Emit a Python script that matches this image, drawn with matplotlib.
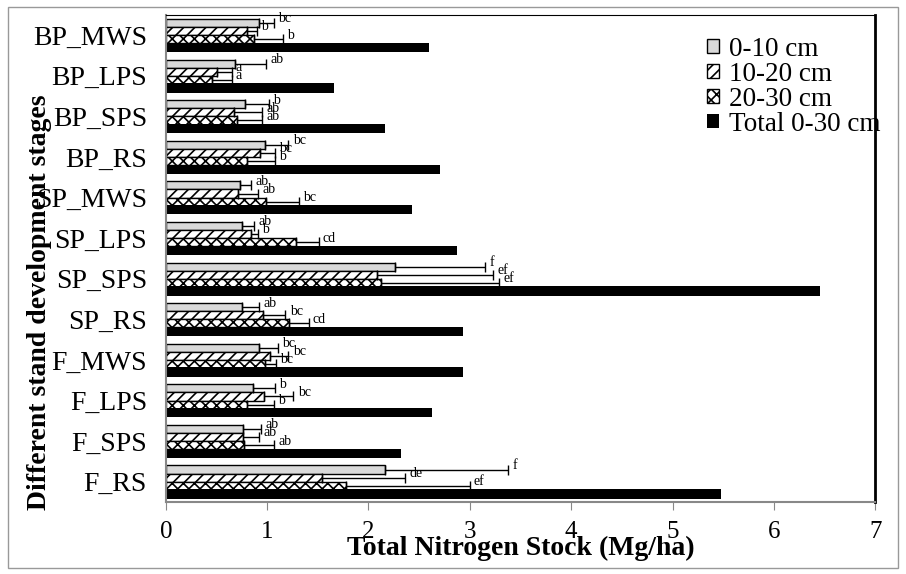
import numpy as np
import matplotlib.pyplot as plt
from matplotlib.patches import Rectangle

plt.rcParams['font.family'] = ['Liberation Serif', 'DejaVu Serif']
plt.rcParams['hatch.linewidth'] = 1.2

# categories listed bottom to top
stages = ['F_RS', 'F_SPS', 'F_LPS', 'F_MWS', 'SP_RS', 'SP_SPS', 'SP_LPS', 'SP_MWS',
          'BP_RS', 'BP_SPS', 'BP_LPS', 'BP_MWS']

d0_10 = [2.16, 0.76, 0.86, 0.92, 0.75, 2.26, 0.75, 0.73, 0.98, 0.78, 0.68, 0.92]
d10_20 = [1.54, 0.76, 0.97, 1.03, 0.96, 2.08, 0.84, 0.71, 0.93, 0.67, 0.51, 0.80]
d20_30 = [1.78, 0.77, 0.80, 0.98, 1.22, 2.12, 1.28, 0.99, 0.80, 0.70, 0.46, 0.87]
total = [5.48, 2.32, 2.63, 2.93, 2.93, 6.46, 2.87, 2.43, 2.71, 2.16, 1.66, 2.60]

err0_10 = [1.22, 0.18, 0.22, 0.19, 0.17, 0.89, 0.12, 0.11, 0.23, 0.24, 0.31, 0.15]
err10_20 = [0.82, 0.16, 0.29, 0.18, 0.22, 1.15, 0.07, 0.20, 0.15, 0.28, 0.14, 0.10]
err20_30 = [1.22, 0.30, 0.27, 0.11, 0.19, 1.17, 0.23, 0.32, 0.28, 0.25, 0.19, 0.29]

lab0_10 = ['f', 'ab', 'b', 'bc', 'ab', 'f', 'ab', 'ab', 'bc', 'b', 'ab', 'bc']
lab10_20 = ['de', 'ab', 'bc', 'bc', 'bc', 'ef', 'b', 'ab', 'bc', 'ab', 'a', 'b']
lab20_30 = ['ef', 'ab', 'b', 'bc', 'cd', 'ef', 'cd', 'bc', 'b', 'ab', 'a', 'b']

fig = plt.figure(figsize=(9.06, 5.74), dpi=100)
ax = fig.add_axes([0.183, 0.1254, 0.783, 0.8486])

y = np.arange(len(stages))
h = 0.2

series = [
    (d0_10, err0_10, lab0_10, 0.3, dict(color='#d9d9d9', edgecolor='black'), '0-10 cm'),
    (d10_20, err10_20, lab10_20, 0.1, dict(color='white', edgecolor='black', hatch='///'), '10-20 cm'),
    (d20_30, err20_30, lab20_30, -0.1, dict(color='white', edgecolor='black', hatch='xxx'), '20-30 cm'),
]

for vals, errs, labs, off, style, name in series:
    ax.barh(y + off, vals, height=h, linewidth=1, label=name, **style)
    ax.errorbar(vals, y + off, xerr=[np.zeros(len(vals)), errs], fmt='none',
                ecolor='black', elinewidth=1, capsize=3.5, capthick=1)
    for v, e, yy, t in zip(vals, errs, y + off, labs):
        ax.annotate(t, (v + e, yy), xytext=(3, 3), textcoords='offset points',
                    fontsize=10, va='center', ha='left')

ax.barh(y - 0.3, total, height=h + 0.03, color='black', label='Total 0-30 cm')

ax.set_xlim(0, 7)
ax.set_ylim(-0.5, len(stages) - 0.5)
ax.set_yticks(y)
ax.set_yticklabels(stages, fontsize=20)
ax.set_xticks(range(8))
ax.tick_params(axis='x', labelsize=18, color='#888888', length=6, direction='out', pad=8)
ax.tick_params(axis='y', length=0, pad=13.5)

for s in ['left', 'bottom']:
    ax.spines[s].set_color('#888888')
    ax.spines[s].set_linewidth(1.5)
ax.spines['right'].set_color('black')
ax.spines['right'].set_linewidth(2)
ax.spines['top'].set_color('black')
ax.spines['top'].set_linewidth(0.8)

ax.set_xlabel('Total Nitrogen Stock (Mg/ha)', fontsize=20, fontweight='bold')
ax.xaxis.set_label_coords(0.5, -0.07)
ax.set_ylabel('Different stand development stages', fontsize=20, fontweight='bold')
ax.yaxis.set_label_coords(-0.16, 0.41)

ax.legend(loc='upper left', bbox_to_anchor=(0.763, 0.955), frameon=False, fontsize=19.5,
          handlelength=0.45, handleheight=0.45, handletextpad=0.35, labelspacing=0.0,
          borderpad=0, borderaxespad=0)

fig.patches.append(Rectangle((8 / 906, 1 - 568 / 574), 890 / 906, 561 / 574,
                             transform=fig.transFigure, fill=False,
                             edgecolor='#999999', linewidth=1))

fig.savefig('out.png', dpi=100)
